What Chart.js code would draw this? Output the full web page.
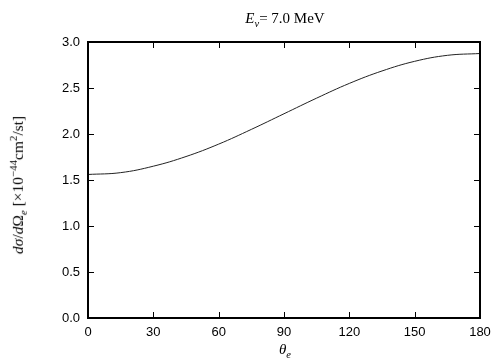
<!DOCTYPE html>
<html>
<head>
<meta charset="utf-8">
<script src="https://cdn.jsdelivr.net/npm/chart.js@4"></script>
<style>
  html, body { margin: 0; padding: 0; background: #fff; }
  #wrap { position: relative; width: 504px; height: 360px; }
  canvas { position: absolute; left: 0; top: 0; }
  .lbl { position: absolute; font-family: "Liberation Serif", "DejaVu Serif", serif; color: #000; white-space: nowrap; }
  #title { left: 285px; top: 10px; transform: translateX(-50%); font-size: 15px; }
  #xlab { left: 285px; top: 341px; transform: translateX(-50%); font-size: 15px; }
  #ylab { left: 18px; top: 185px; transform: translate(-50%, -50%) rotate(-90deg); font-size: 15.5px; }
  sub, sup { font-size: 70%; }
</style>
</head>
<body>
<div id="wrap">
  <canvas id="chart" width="504" height="360"></canvas>
  <div class="lbl" id="title"><i>E</i><sub><i>ν</i></sub>= 7.0 MeV</div>
  <div class="lbl" id="xlab"><i>θ</i><sub><i>e</i></sub></div>
  <div class="lbl" id="ylab"><i>dσ</i>/<i>d</i>Ω<sub><i>e</i></sub> [×10<sup>−44</sup>cm<sup>2</sup>/st]</div>
</div>
<script>
// angulo (graus) e secao de choque
const angles = [0, 15, 30, 45, 60, 75, 90, 105, 120, 135, 150, 165, 180];
const crossSection = [1.56, 1.58, 1.65, 1.755, 1.89, 2.05, 2.22, 2.39, 2.55, 2.685, 2.79, 2.855, 2.875];

const xTicks = [0, 30, 60, 90, 120, 150, 180];
const yTicks = [0.0, 0.5, 1.0, 1.5, 2.0, 2.5, 3.0];

// moldura e tiques para dentro, estilo gnuplot
const framePlugin = {
    id: 'frame',
    afterDraw(chart) {
        const ctx = chart.ctx;
        const a = chart.chartArea;
        const xs = chart.scales.x;
        const ys = chart.scales.y;
        const len = 6;
        ctx.save();
        ctx.strokeStyle = '#000';
        ctx.lineWidth = 1;
        ctx.beginPath();
        xTicks.forEach(v => {
            const px = Math.round(xs.getPixelForValue(v)) + 0.5;
            ctx.moveTo(px, a.bottom); ctx.lineTo(px, a.bottom - len);
            ctx.moveTo(px, a.top); ctx.lineTo(px, a.top + len);
        });
        yTicks.forEach(v => {
            const py = Math.round(ys.getPixelForValue(v)) + 0.5;
            ctx.moveTo(a.left, py); ctx.lineTo(a.left + len, py);
            ctx.moveTo(a.right, py); ctx.lineTo(a.right - len, py);
        });
        ctx.stroke();
        ctx.lineWidth = 2;
        ctx.strokeRect(a.left, a.top, a.right - a.left, a.bottom - a.top);
        ctx.restore();
    }
};

new Chart(document.getElementById('chart'), {
    type: 'line',
    data: {
        datasets: [{
            data: angles.map((a, i) => ({ x: a, y: crossSection[i] })),
            borderColor: '#222',
            borderWidth: 1,
            pointRadius: 0,
            fill: false,
            tension: 0.4
        }]
    },
    options: {
        responsive: false,
        animation: false,
        layout: { padding: { left: 0, right: 24, top: 42, bottom: 0 } },
        plugins: { legend: { display: false }, tooltip: { enabled: false } },
        scales: {
            x: {
                type: 'linear', min: 0, max: 180,
                afterBuildTicks: s => { s.ticks = xTicks.map(v => ({ value: v })); },
                afterFit: s => { s.height = 42; },
                grid: { display: false, drawTicks: false },
                border: { display: false },
                ticks: {
                    padding: 7, color: '#000', maxRotation: 0,
                    font: { family: 'Liberation Sans', size: 13 },
                    callback: v => String(v)
                }
            },
            y: {
                min: 0, max: 3,
                afterBuildTicks: s => { s.ticks = yTicks.map(v => ({ value: v })); },
                afterFit: s => { s.width = 88; },
                grid: { display: false, drawTicks: false },
                border: { display: false },
                ticks: {
                    padding: 8, color: '#000',
                    font: { family: 'Liberation Sans', size: 13 },
                    callback: v => Number(v).toFixed(1)
                }
            }
        }
    },
    plugins: [framePlugin]
});
</script>
</body>
</html>
